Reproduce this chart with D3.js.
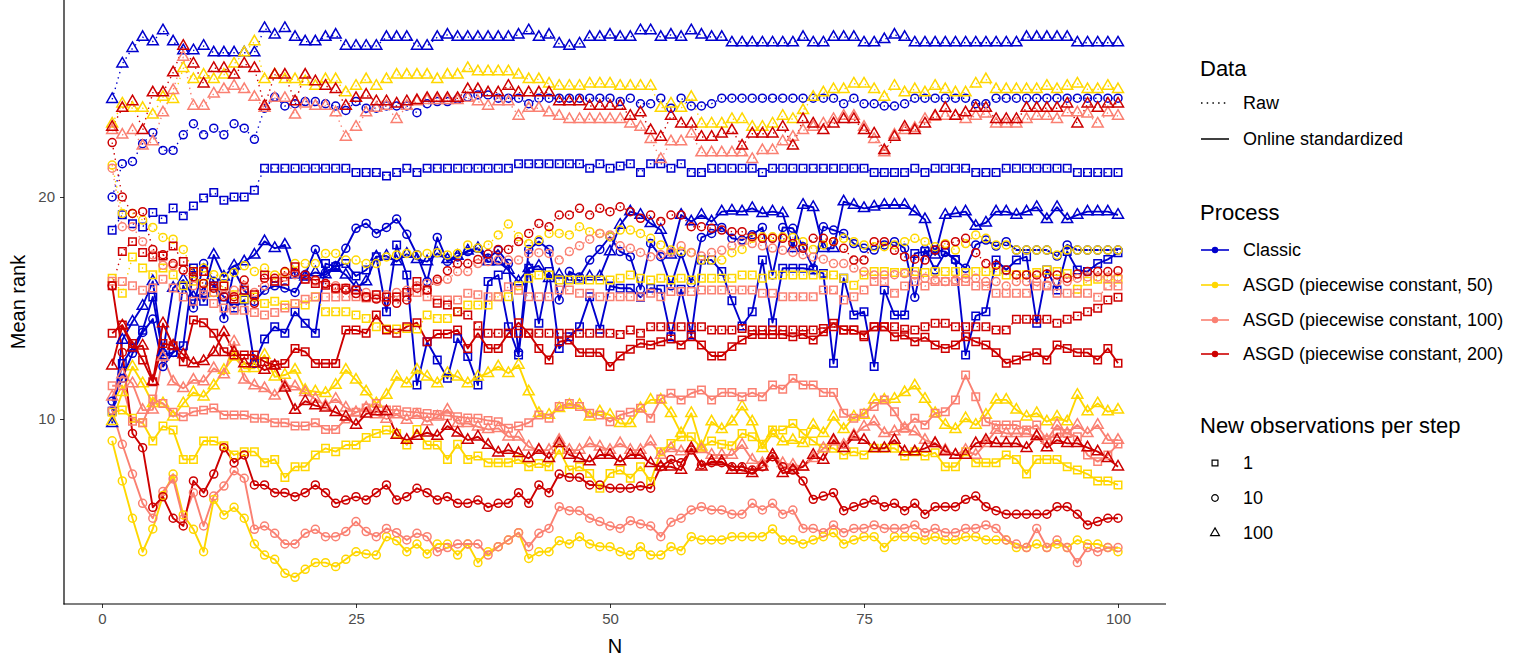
<!DOCTYPE html>
<html><head><meta charset="utf-8">
<script src="https://cdn.jsdelivr.net/npm/d3@7"></script>
<style>body{margin:0;background:#fff;} text{font-family:"Liberation Sans",Arial,Helvetica,sans-serif;}</style>
</head><body><svg id="c" width="1521" height="660"></svg>
<script>
// ---------- DATA ----------
const N = d3.range(1, 101);
const processes = ["Classic","ASGD (piecewise constant, 50)","ASGD (piecewise constant, 100)","ASGD (piecewise constant, 200)"];
const dataTypes = ["Raw","Online standardized"];
const obsLevels = ["1","10","100"];
const xTickValues = [0,25,50,75,100];
const yTickValues = [10,20];

const classic_raw_1 = [18.5,19.2,18.8,18.65,19.3,19.0,19.5,19.15,19.6,19.95,
20.2,19.85,20.0,20.0,20.3,21.3,21.3,21.3,21.3,21.3,
21.3,21.3,21.3,21.3,21.1,21.1,21.1,20.95,21.1,21.3,
21.1,21.3,21.3,21.3,21.3,21.3,21.3,21.3,21.3,21.3,
21.5,21.5,21.5,21.5,21.5,21.5,21.5,21.3,21.5,21.3,
21.4,21.5,21.1,21.5,21.5,21.3,21.5,21.1,21.1,21.3,
21.3,21.3,21.3,21.3,21.1,21.3,21.3,21.3,21.3,21.3,
21.3,21.3,21.3,21.3,21.3,21.1,21.1,21.1,21.1,21.3,
21.1,21.3,21.3,21.3,21.3,21.1,21.1,21.1,21.3,21.3,
21.3,21.3,21.3,21.3,21.3,21.1,21.1,21.1,21.1,21.1];
const classic_raw_10 = [20.0,21.5,21.6,22.4,22.9,22.1,22.1,22.8,23.3,22.8,
23.1,22.8,23.3,23.1,22.6,24.0,24.5,24.1,24.2,24.3,
24.3,24.2,24.1,23.9,24.3,24.0,24.0,24.1,24.1,24.1,
23.8,24.2,24.3,24.3,24.4,24.5,24.6,24.6,24.45,24.45,
24.45,24.2,24.45,24.45,24.45,24.45,24.45,24.45,24.45,24.45,
24.3,24.45,24.2,24.2,24.45,24.0,24.45,24.1,24.1,24.2,
24.45,24.45,24.45,24.45,24.45,24.45,24.45,24.45,24.45,24.45,
24.45,24.45,24.2,24.45,24.2,24.2,24.1,24.1,24.2,24.45,
24.45,24.45,24.45,24.45,24.45,24.2,24.2,24.45,24.45,24.45,
24.45,24.45,24.45,24.45,24.45,24.45,24.45,24.45,24.45,24.45];
const classic_raw_100 = [24.4,26.0,26.7,27.2,27.0,27.5,27.0,26.6,26.6,26.8,
26.5,26.5,26.5,26.5,26.5,27.6,27.3,27.6,27.2,27.0,
27.0,27.2,27.3,26.8,26.8,26.8,26.8,27.2,27.2,27.2,
26.8,26.8,27.2,27.3,27.2,27.2,27.2,27.2,27.2,27.2,
27.3,27.5,27.2,27.3,26.9,26.8,26.9,27.2,27.2,27.3,
27.2,27.2,27.5,27.5,27.2,27.3,27.2,27.5,27.3,27.2,
27.2,26.95,26.95,26.95,26.95,26.95,26.95,26.95,27.2,26.95,
26.95,27.2,27.2,27.2,26.95,26.95,27.1,27.3,27.2,26.95,
26.95,26.95,26.95,26.95,26.95,26.95,26.95,26.95,26.95,26.95,
27.2,27.2,27.2,27.2,27.2,26.95,26.95,26.95,26.95,26.95];

const asgd50_raw_1 = [16.34,15.66,17.3,16.8,16.5,16.8,16.5,16.0,16.2,16.1,
15.7,16.0,15.6,15.4,15.5,15.2,15.3,15.13,15.2,15.13,
15.51,14.83,14.83,14.83,14.68,14.53,14.16,14.05,14.05,14.08,
14.05,14.68,14.53,14.53,14.83,15.13,15.13,15.13,15.51,15.51,
16.0,16.34,16.49,16.49,16.26,16.26,16.26,16.26,16.26,16.26,
16.34,16.49,16.34,16.26,16.34,16.26,16.34,16.26,16.34,16.34,
16.34,16.34,16.49,16.49,16.34,16.49,16.49,16.49,16.49,16.49,
16.49,16.49,16.34,16.03,16.49,16.64,16.64,16.6,16.6,16.64,
16.6,16.64,16.64,16.64,16.6,16.64,16.64,16.64,16.49,16.5,
16.5,16.6,16.71,16.64,16.55,15.84,16.2,16.29,16.29,16.29];
const asgd50_raw_10 = [21.44,19.26,19.26,18.96,18.63,18.18,18.1,17.64,16.64,16.8,
16.5,16.4,16.6,16.9,16.64,16.8,16.49,16.6,17.0,17.0,
17.0,17.46,17.46,17.16,17.16,17.0,17.0,17.3,17.39,17.46,
17.39,17.46,17.49,17.39,17.46,17.84,17.7,17.84,18.29,18.78,
18.21,17.9,18.06,18.36,18.36,18.29,18.66,18.44,18.36,18.21,
18.51,18.51,18.36,18.14,17.84,17.61,17.55,17.49,17.16,17.16,
17.16,17.49,17.64,18.14,18.21,18.21,18.21,18.18,17.99,17.64,
17.84,17.99,18.14,17.99,17.84,17.76,17.76,17.84,17.99,18.14,
17.99,17.76,17.9,17.61,17.9,18.29,18.14,17.84,17.84,17.61,
17.61,17.61,17.61,17.39,17.61,17.61,17.61,17.61,17.61,17.61];
const asgd50_raw_100 = [23.3,24.2,24.0,24.0,23.7,24.5,24.4,25.8,25.3,25.5,
25.3,25.5,26.0,26.5,27.0,25.3,25.5,25.3,25.3,25.2,
25.0,25.3,25.3,24.7,25.0,25.3,25.0,25.3,25.5,25.5,
25.5,25.5,25.3,25.5,25.5,25.8,25.65,25.65,25.65,25.65,
25.5,25.3,25.3,25.1,25.0,25.0,25.0,25.1,25.1,25.1,
25.0,25.0,25.0,25.0,24.0,24.2,24.0,24.5,23.3,23.3,
23.3,23.5,23.5,23.15,23.15,23.3,23.65,23.5,23.9,24.5,
24.7,24.85,24.85,25.1,25.1,24.85,24.5,25.0,24.7,24.85,
24.7,25.0,24.85,24.7,24.7,25.1,25.3,24.85,24.85,24.85,
24.85,24.85,25.0,24.85,25.0,25.1,24.85,24.85,25.0,24.85];

const asgd100_raw_1 = [16.2,16.19,16.0,15.8,15.9,16.3,15.9,15.5,15.3,15.6,
15.2,15.0,14.9,14.9,14.8,14.68,14.8,15.0,15.2,15.4,
15.5,15.5,15.5,15.51,15.51,15.45,15.45,15.5,15.51,15.51,
15.7,15.51,15.36,15.36,15.36,15.66,15.6,15.51,15.51,15.96,
15.8,15.51,15.51,15.51,15.81,15.81,15.66,15.66,15.51,15.51,
15.51,15.51,15.51,15.66,15.51,15.74,15.74,15.74,15.81,15.81,
15.81,15.81,15.81,15.81,15.66,15.66,15.51,15.51,15.51,15.51,
15.81,15.81,15.36,15.51,15.81,16.19,16.19,15.66,15.99,16.19,
15.99,16.19,16.19,16.19,16.19,15.99,15.99,15.66,15.66,15.66,
15.66,15.99,15.99,15.66,15.66,15.66,15.66,15.48,15.99,15.99];
const asgd100_raw_10 = [21.3,18.66,18.66,17.99,17.39,16.93,16.9,16.71,16.0,15.8,
15.7,15.6,15.8,16.0,15.7,16.0,16.2,16.4,16.5,16.3,
16.2,16.1,16.0,15.9,15.8,15.7,15.6,15.6,15.7,15.8,
16.0,16.1,16.2,16.29,16.64,16.64,17.0,17.09,17.16,17.16,
17.16,17.46,17.49,17.46,17.16,17.54,17.8,18.1,18.36,18.29,
17.8,17.69,17.5,17.31,17.4,17.5,17.8,17.5,17.34,17.5,
17.6,17.8,17.99,17.9,17.8,17.7,17.6,17.5,17.4,17.3,
17.2,17.0,17.0,16.8,16.64,16.49,16.49,16.5,16.55,16.49,
16.34,16.26,16.19,16.26,16.34,16.34,16.19,16.19,15.99,16.19,
16.19,16.19,16.03,16.19,16.19,16.34,16.4,16.4,16.4,16.4];
const asgd100_raw_100 = [23.0,22.8,23.0,22.3,22.5,23.8,24.8,26.3,24.1,24.1,
24.65,24.85,25.0,24.85,24.5,24.0,24.45,24.45,23.7,24.2,
24.1,24.1,23.8,22.7,23.15,23.8,24.0,24.1,23.5,24.1,
24.3,24.35,24.35,24.35,24.35,24.45,24.3,24.1,24.3,24.3,
23.65,24.0,24.0,23.8,23.65,23.5,23.5,23.5,23.5,23.5,
23.5,23.3,23.15,22.6,21.7,22.5,22.5,22.85,22.0,22.0,
22.0,22.0,22.0,21.7,22.1,22.1,22.5,22.7,23.0,23.15,
23.3,23.5,23.65,23.65,23.15,22.6,22.0,22.8,23.0,23.1,
23.5,23.6,23.65,23.65,23.5,23.65,23.75,23.3,23.3,23.3,
23.5,23.65,23.65,23.5,23.8,23.8,23.75,23.3,23.8,23.65];

const asgd200_raw_1 = [16.0,17.54,17.99,17.5,17.3,17.34,17.79,17.09,16.64,16.64,
15.99,15.99,15.4,15.8,15.6,16.49,16.2,16.2,16.86,16.3,
16.1,16.03,15.89,15.89,15.81,15.5,15.6,15.5,15.5,15.7,
16.19,15.81,15.21,15.14,14.83,14.68,14.2,13.86,13.86,13.86,
13.86,13.86,13.86,13.86,13.86,13.86,13.86,13.86,13.86,13.86,
13.81,14.01,13.86,14.16,14.16,14.16,14.16,14.16,14.16,14.01,
14.01,14.01,14.08,14.01,14.01,14.01,14.01,14.01,14.01,14.01,
14.08,14.16,14.01,14.01,13.71,14.16,14.16,14.16,14.04,14.01,
14.16,14.31,14.31,14.16,14.16,14.16,14.16,14.01,14.01,14.49,
14.49,14.49,14.49,14.31,14.49,14.64,14.83,14.99,15.36,15.48];
const asgd200_raw_10 = [22.45,20.0,19.26,19.34,17.64,17.4,17.0,16.71,16.41,16.1,
15.89,15.51,15.51,16.26,15.21,16.34,16.34,16.64,16.6,16.49,
16.26,16.1,15.89,15.81,15.65,15.51,15.4,15.28,15.21,15.36,
15.89,15.81,16.29,16.68,17.0,17.0,17.19,17.43,17.64,17.64,
17.99,18.36,18.81,18.66,19.19,19.19,19.49,19.19,19.49,19.34,
19.56,19.34,19.04,19.19,18.9,19.19,19.19,18.66,18.66,18.59,
18.51,18.44,18.44,18.21,18.14,18.14,18.14,17.91,17.69,18.14,
18.14,17.99,17.69,17.16,17.16,17.99,17.99,17.6,17.31,17.2,
17.16,17.61,17.84,17.99,18.14,17.49,17.0,16.93,16.71,16.49,
16.49,16.49,16.53,16.49,16.34,16.53,16.64,16.64,16.64,16.68];
const asgd200_raw_100 = [23.15,24.0,24.3,23.0,24.7,24.7,25.6,26.8,26.0,25.1,
25.8,25.8,25.5,26.0,25.8,24.1,25.5,25.5,24.3,25.5,
25.2,25.0,24.85,24.1,24.45,24.6,24.3,24.3,24.2,24.3,
24.35,24.45,24.45,24.45,24.45,24.85,24.85,24.7,24.7,25.0,
24.7,24.7,24.7,24.7,24.3,24.3,24.3,24.1,24.1,24.1,
24.1,23.65,23.8,23.0,22.7,23.65,23.3,23.3,22.7,22.7,
22.85,23.0,22.3,22.85,22.85,22.85,23.15,22.3,23.5,23.3,
23.0,23.3,23.5,23.5,23.0,22.85,22.1,22.7,23.15,23.0,
23.3,23.65,24.0,23.65,23.8,24.0,24.0,23.5,23.5,23.5,
24.0,24.0,24.0,24.0,24.2,23.3,24.2,24.0,24.2,24.2];

const classic_std_1 = [10.35,12.5,13.2,14.0,15.5,12.88,13.0,13.3,16.8,15.3,
16.0,15.5,15.0,15.36,12.5,13.6,14.16,13.86,14.83,14.31,
13.86,17.0,16.86,17.0,16.44,16.71,17.31,14.83,17.84,16.49,
11.53,13.48,12.66,11.83,13.63,12.81,11.53,16.19,16.49,14.16,
12.88,16.79,14.31,16.64,13.18,13.71,14.16,15.51,14.04,15.99,
15.89,15.89,15.48,15.89,15.84,13.71,15.84,13.78,17.16,17.16,
16.64,15.33,14.19,14.83,17.16,14.34,16.79,16.79,16.79,16.71,
16.56,12.51,16.34,14.68,14.83,12.36,15.81,14.68,14.68,17.46,
17.54,17.61,17.54,17.19,12.88,14.64,14.83,17.16,16.71,17.16,
17.31,14.31,16.71,15.81,17.54,16.71,16.64,17.0,17.19,17.49];
const classic_std_10 = [10.8,11.83,12.96,13.9,14.5,12.36,13.0,16.0,15.0,17.0,
16.2,14.53,16.7,15.8,15.3,15.8,16.0,15.9,15.7,16.5,
17.64,16.6,16.9,17.69,18.59,18.81,18.36,18.63,19.01,18.32,
17.4,16.19,18.18,17.1,17.3,17.54,17.69,17.24,17.6,17.0,
13.0,17.64,17.99,17.64,15.36,16.64,16.4,17.16,17.64,18.21,
17.54,17.31,15.84,17.91,17.31,16.0,17.46,16.11,18.18,18.36,
18.63,18.14,18.06,18.3,18.63,16.49,18.63,18.59,17.76,16.79,
18.66,18.51,18.36,17.9,17.69,17.61,17.84,17.99,17.69,15.48,
17.64,16.71,17.5,17.16,16.79,17.84,18.06,17.79,17.99,17.61,
17.61,17.61,17.61,17.34,17.84,17.61,17.61,17.61,17.61,17.61];
const classic_std_100 = [9.8,13.56,14.38,15.09,16.2,13.0,15.9,16.26,15.5,15.66,
17.39,16.4,16.9,17.09,17.39,18.0,17.69,17.84,16.49,16.4,
16.6,16.5,16.8,16.49,15.93,16.19,17.31,17.34,17.09,17.43,
17.19,17.09,17.46,17.19,17.34,17.58,17.69,17.09,17.09,16.71,
16.19,16.79,16.89,16.34,16.49,16.26,16.26,16.41,16.41,17.54,
18.74,19.34,19.19,18.81,18.51,17.39,19.19,18.89,19.19,18.89,
19.34,19.38,19.34,19.49,19.26,19.34,19.26,17.69,19.64,19.54,
17.69,17.69,19.79,19.64,19.49,19.56,19.64,19.64,19.64,19.34,
18.99,17.39,19.19,19.26,19.34,18.69,18.84,19.34,19.34,19.19,
19.34,19.54,18.99,19.54,18.99,19.19,19.34,19.34,19.34,19.19];

const asgd50_std_1 = [10.3,10.41,10.03,9.83,9.01,9.68,9.5,8.18,8.18,9.01,
9.01,8.8,8.38,8.53,8.53,8.03,8.18,7.36,7.85,7.85,
8.38,8.68,8.53,8.83,8.83,9.17,9.35,9.5,9.35,8.83,
9.53,8.83,8.83,8.18,8.86,8.18,8.33,8.03,8.03,8.03,
8.18,7.85,8.0,7.85,8.6,7.7,7.85,7.55,6.88,7.55,
7.7,7.33,7.85,7.18,8.53,8.9,9.2,9.2,8.68,9.01,
8.86,8.8,9.35,9.2,8.86,9.5,9.5,9.8,9.35,9.01,
8.68,8.68,8.38,8.53,8.38,8.68,8.68,8.68,8.33,8.53,
8.33,8.48,7.85,7.85,8.53,8.03,8.03,8.03,8.38,8.18,
7.52,8.18,8.18,8.18,7.85,7.7,7.52,7.21,7.21,7.03];
const asgd50_std_10 = [9.02,7.21,5.53,4.02,5.05,6.55,7.52,5.68,5.03,4.02,
6.38,5.68,6.02,5.53,4.37,3.87,3.68,3.05,2.87,3.23,
3.53,3.53,3.35,3.68,4.02,3.92,3.87,4.7,4.52,4.02,
4.37,3.92,4.37,4.37,3.87,4.37,3.53,4.02,4.25,4.55,
4.88,3.72,4.02,4.02,4.52,4.37,4.7,4.37,4.25,4.25,
4.02,3.87,4.25,3.87,3.87,4.25,4.07,4.7,4.55,4.55,
4.55,4.7,4.7,4.7,4.7,5.05,4.55,4.55,4.37,4.55,
4.7,4.88,4.37,4.55,4.7,4.7,4.21,4.7,4.7,4.7,
4.55,4.7,4.55,4.55,4.7,4.7,4.55,4.55,4.55,4.21,
4.21,4.37,4.21,4.37,4.21,4.55,4.37,4.37,4.21,4.02];
const asgd50_std_100 = [9.9,11.2,12.36,11.6,10.7,10.7,10.1,10.7,11.2,11.0,
11.5,12.2,12.8,12.28,12.28,12.88,11.9,11.98,12.21,11.3,
11.23,11.16,11.53,12.21,11.76,11.23,10.7,11.08,11.9,11.6,
12.21,11.9,11.6,12.06,11.9,11.6,11.9,12.06,12.36,12.06,
12.43,11.23,10.26,10.18,10.48,10.63,10.63,10.1,10.33,10.18,
9.8,9.8,10.48,10.86,10.86,10.26,9.35,10.26,8.75,9.88,
9.53,9.88,10.56,9.88,8.68,9.35,8.98,9.05,8.9,9.73,
9.35,10.1,9.53,10.1,10.18,10.86,10.86,10.9,11.2,11.5,
10.9,10.26,9.73,9.53,10.03,9.73,10.18,10.86,10.86,10.41,
10.1,10.26,9.88,10.1,9.88,11.08,10.33,10.7,10.33,10.41];

const asgd100_std_1 = [11.5,11.5,9.9,9.83,10.9,10.7,10.3,10.1,10.33,10.4,
10.5,10.18,10.18,10.18,10.03,10.03,9.83,9.83,9.68,9.68,
9.83,9.53,9.53,10.0,10.3,10.5,10.7,10.41,10.41,10.33,
10.3,10.25,10.2,10.15,10.1,10.05,10.03,9.93,9.88,9.58,
9.68,9.83,10.18,10.03,10.56,10.7,10.56,10.26,10.18,9.88,
10.18,10.3,10.48,10.03,10.9,11.16,10.86,11.16,11.31,10.86,
11.19,11.19,11.0,11.19,11.0,11.53,11.34,11.83,11.53,11.53,
11.19,11.19,10.26,10.03,10.26,10.56,10.86,10.33,9.58,10.03,
9.73,10.26,10.33,10.86,11.98,11.0,9.88,9.73,9.73,9.73,
9.5,9.73,9.05,9.35,9.35,9.2,8.38,8.08,8.38,8.87];
const asgd100_std_10 = [10.4,8.86,7.52,6.2,5.53,6.73,7.3,5.5,6.68,5.18,
6.53,6.98,7.67,7.33,5.03,5.18,4.85,4.37,4.37,4.85,
5.03,4.7,4.7,4.93,5.38,4.93,4.7,5.07,4.88,4.55,
4.85,4.7,4.02,4.21,4.37,4.37,4.37,3.87,4.25,4.55,
4.88,4.25,4.85,5.07,6.05,5.87,5.87,5.53,5.38,5.18,
5.07,5.42,5.27,5.18,4.7,5.35,5.53,5.9,6.05,5.9,
5.9,5.71,5.71,6.2,5.9,6.2,5.71,5.9,5.07,5.07,
4.88,5.23,4.88,5.07,5.07,5.23,5.07,5.07,5.07,5.23,
4.88,5.07,4.88,4.88,5.07,5.07,5.23,5.07,4.55,4.37,
4.21,5.07,4.21,4.55,4.21,3.53,4.21,4.02,4.21,4.21];
const asgd100_std_100 = [11.0,12.0,11.6,10.4,10.41,12.8,11.68,11.38,11.76,11.68,
12.28,12.0,13.48,11.76,11.5,11.38,11.04,11.5,11.46,11.2,
10.9,10.6,10.9,10.5,10.3,10.5,10.2,10.0,10.2,9.95,
10.18,9.88,10.1,10.41,9.8,9.8,9.65,9.53,9.58,9.2,
9.2,8.75,8.6,8.6,9.05,8.6,8.6,8.9,8.75,8.6,
8.9,8.6,8.6,8.98,8.38,8.68,8.53,8.63,8.63,8.38,
8.38,8.38,8.83,8.15,8.0,8.38,8.0,7.93,7.85,8.23,
8.68,8.98,8.83,9.28,9.65,9.88,9.35,9.43,9.58,9.43,
9.05,8.9,8.6,8.38,8.6,8.38,8.9,9.5,9.35,9.35,
9.35,9.2,9.05,9.73,9.35,9.73,9.35,9.73,9.05,9.05];

const asgd200_std_1 = [13.86,14.23,13.4,12.66,11.68,13.4,13.3,12.58,14.46,14.34,
13.86,13.03,12.88,12.88,12.88,12.58,12.43,12.5,13.18,13.03,
12.5,12.5,12.5,14.01,14.01,13.86,14.68,14.01,13.86,14.16,
14.34,13.48,13.83,13.83,14.01,13.18,13.86,13.18,13.18,13.86,
14.34,13.86,13.18,12.66,13.48,13.56,12.99,12.99,12.99,12.36,
12.84,13.14,13.41,13.33,13.48,13.6,13.33,13.71,13.33,12.84,
12.84,13.26,13.56,13.81,13.81,13.81,13.81,13.71,13.81,13.56,
13.93,14.31,14.01,14.01,13.78,14.16,14.16,13.71,13.78,13.48,
13.68,13.33,13.18,13.33,13.71,13.48,13.33,12.99,12.51,12.66,
12.84,12.99,12.66,13.33,13.18,12.99,12.99,12.66,13.18,12.51];
const asgd200_std_10 = [16.0,13.0,9.35,8.71,6.02,6.5,5.53,5.18,7.21,6.68,
7.52,8.71,8.03,8.38,7.03,7.03,6.68,6.68,6.5,6.68,
7.03,6.68,6.2,6.35,6.5,6.35,6.68,7.03,6.35,6.5,
6.88,6.68,6.35,6.5,6.2,6.2,6.35,6.02,6.2,6.2,
6.68,6.2,7.03,6.68,7.52,7.37,7.37,7.03,7.03,6.88,
6.88,6.88,6.98,6.88,7.85,8.18,8.03,8.6,7.93,8.03,
8.03,7.85,7.85,7.7,7.85,8.3,7.85,7.7,7.21,6.38,
6.53,6.68,5.87,6.05,6.2,6.35,6.05,6.2,5.87,6.2,
5.71,6.05,6.05,6.05,6.38,6.53,6.05,5.87,5.71,5.71,
5.71,5.71,5.71,6.05,6.05,5.71,5.23,5.38,5.53,5.53];
const asgd200_std_100 = [12.4,14.2,13.2,13.3,11.7,14.3,13.3,12.9,12.5,12.6,
13.0,13.9,13.0,12.5,12.5,12.2,12.4,11.4,10.4,10.8,
10.6,10.5,10.3,10.1,9.73,10.23,10.33,10.33,9.28,9.05,
9.23,9.38,9.23,9.68,9.38,9.05,9.2,8.83,8.48,8.6,
8.45,8.23,8.6,8.23,8.9,8.38,8.23,8.08,8.38,8.38,
8.08,8.38,8.38,8.0,7.85,7.85,7.7,8.68,7.85,8.08,
8.08,7.7,7.7,7.55,7.85,8.38,7.55,7.7,7.85,8.38,
8.15,9.05,8.68,9.2,9.05,8.68,8.68,9.05,8.53,8.53,
8.68,8.9,8.53,8.38,8.38,8.9,9.05,8.9,8.9,8.9,
8.68,9.23,8.71,9.05,8.9,8.9,8.71,8.53,8.23,7.85];

// ---------- SERIES TABLE ----------
const table = {
  "Classic": {"Raw": [classic_raw_1, classic_raw_10, classic_raw_100], "Online standardized": [classic_std_1, classic_std_10, classic_std_100]},
  "ASGD (piecewise constant, 50)": {"Raw": [asgd50_raw_1, asgd50_raw_10, asgd50_raw_100], "Online standardized": [asgd50_std_1, asgd50_std_10, asgd50_std_100]},
  "ASGD (piecewise constant, 100)": {"Raw": [asgd100_raw_1, asgd100_raw_10, asgd100_raw_100], "Online standardized": [asgd100_std_1, asgd100_std_10, asgd100_std_100]},
  "ASGD (piecewise constant, 200)": {"Raw": [asgd200_raw_1, asgd200_raw_10, asgd200_raw_100], "Online standardized": [asgd200_std_1, asgd200_std_10, asgd200_std_100]}
};
const series = [];
processes.forEach(p => dataTypes.forEach(d => obsLevels.forEach((o, i) => {
  series.push({proc: p, data: d, obs: o, pts: N.map((n, j) => ({n: n, v: table[p][d][i][j]}))});
})));

// ---------- STYLE ----------
const color = d3.scaleOrdinal().domain(processes).range(["#0000CD","#FFD700","#FA8072","#CD0000"]);
const shapeType = d3.scaleOrdinal().domain(obsLevels).range([d3.symbolSquare, d3.symbolCircle, d3.symbolTriangle]);
const shapeSize = {"1": 56, "10": 50, "100": 52};

const svg = d3.select("#c");
svg.append("rect").attr("width",1521).attr("height",660).attr("fill","#fff");

const x = d3.scaleLinear().domain([0,100]).range([102,1118]);
const y = d3.scaleLinear().domain([10,20]).range([419,197]);
const panel = {l: 64, r: 1166, t: 0, b: 604};

const plot = svg.append("g");
const line = d3.line().x(d => x(d.n)).y(d => y(d.v));

// lines
plot.selectAll("path.ser").data(series).join("path")
  .attr("class","ser")
  .attr("d", s => line(s.pts))
  .attr("fill","none")
  .attr("stroke", s => color(s.proc))
  .attr("stroke-width", s => s.data === "Raw" ? 1.4 : 1.9)
  .attr("stroke-dasharray", s => s.data === "Raw" ? "1.4,4" : null)
  .attr("stroke-linejoin","round");

// points
series.forEach(s => {
  const sym = d3.symbol().type(shapeType(s.obs)).size(shapeSize[s.obs]);
  plot.append("g").selectAll("path").data(s.pts).join("path")
    .attr("transform", d => `translate(${x(d.n)},${y(d.v)})`)
    .attr("d", sym)
    .attr("fill","none")
    .attr("stroke", color(s.proc))
    .attr("stroke-width", 1.5);
});

// axes
const gx = svg.append("g").attr("transform",`translate(0,${panel.b})`)
  .call(d3.axisBottom(x).tickValues(xTickValues).tickSize(4).tickPadding(5).tickFormat(d3.format("d")));
gx.select(".domain").remove();
gx.selectAll("line").attr("stroke","#333").attr("stroke-width",1);
gx.selectAll("text").attr("font-size",15).attr("fill","#4D4D4D").attr("font-family","Liberation Sans, Arial, sans-serif");

const gy = svg.append("g").attr("transform",`translate(${panel.l},0)`)
  .call(d3.axisLeft(y).tickValues(yTickValues).tickSize(4).tickPadding(5).tickFormat(d3.format("d")));
gy.select(".domain").remove();
gy.selectAll("line").attr("stroke","#333").attr("stroke-width",1);
gy.selectAll("text").attr("font-size",15).attr("fill","#4D4D4D").attr("font-family","Liberation Sans, Arial, sans-serif");

svg.append("line").attr("x1",panel.l).attr("x2",panel.l).attr("y1",panel.t).attr("y2",panel.b+0.5).attr("stroke","#000").attr("stroke-width",1.2);
svg.append("line").attr("x1",panel.l-0.5).attr("x2",panel.r).attr("y1",panel.b).attr("y2",panel.b).attr("stroke","#000").attr("stroke-width",1.2);

svg.append("text").attr("x",(panel.l+panel.r)/2).attr("y",653).attr("text-anchor","middle").attr("font-size",20).attr("fill","#000").text("N");
svg.append("text").attr("transform",`translate(25,${(panel.t+panel.b)/2}) rotate(-90)`).attr("text-anchor","middle").attr("font-size",20).attr("fill","#000").text("Mean rank");

// ---------- LEGEND ----------
const lg = svg.append("g");
const kx0 = 1201, kx1 = 1229, tx = 1243;
function title(t, yc){ lg.append("text").attr("x",1200).attr("y",yc).attr("dy","0.35em").attr("font-size",22).attr("fill","#000").text(t); }
function label(t, yc){ lg.append("text").attr("x",tx).attr("y",yc).attr("dy","0.35em").attr("font-size",18).attr("fill","#000").text(t); }

title("Data", 68);
const dataY = [103, 139];
dataTypes.forEach((d, i) => {
  lg.append("line").attr("x1",kx0).attr("x2",kx1).attr("y1",dataY[i]).attr("y2",dataY[i])
    .attr("stroke","#000").attr("stroke-width",1.5).attr("stroke-dasharray", d === "Raw" ? "1.5,4.2" : null);
  label(d, dataY[i]);
});

title("Process", 212);
const procY = [250, 285, 320, 354];
processes.forEach((p, i) => {
  lg.append("line").attr("x1",kx0).attr("x2",kx1).attr("y1",procY[i]).attr("y2",procY[i])
    .attr("stroke",color(p)).attr("stroke-width",1.6);
  lg.append("circle").attr("cx",(kx0+kx1)/2).attr("cy",procY[i]).attr("r",3.2).attr("fill",color(p));
  label(p, procY[i]);
});

title("New observations per step", 425);
const obsY = [463, 498, 533];
const obsLegSize = {"1": 34, "10": 34, "100": 34};
obsLevels.forEach((o, i) => {
  lg.append("path").attr("transform",`translate(${(kx0+kx1)/2},${obsY[i]})`)
    .attr("d", d3.symbol().type(shapeType(o)).size(obsLegSize[o]))
    .attr("fill","none").attr("stroke","#000").attr("stroke-width",1.2);
  label(o, obsY[i]);
});
</script>
</body></html>
